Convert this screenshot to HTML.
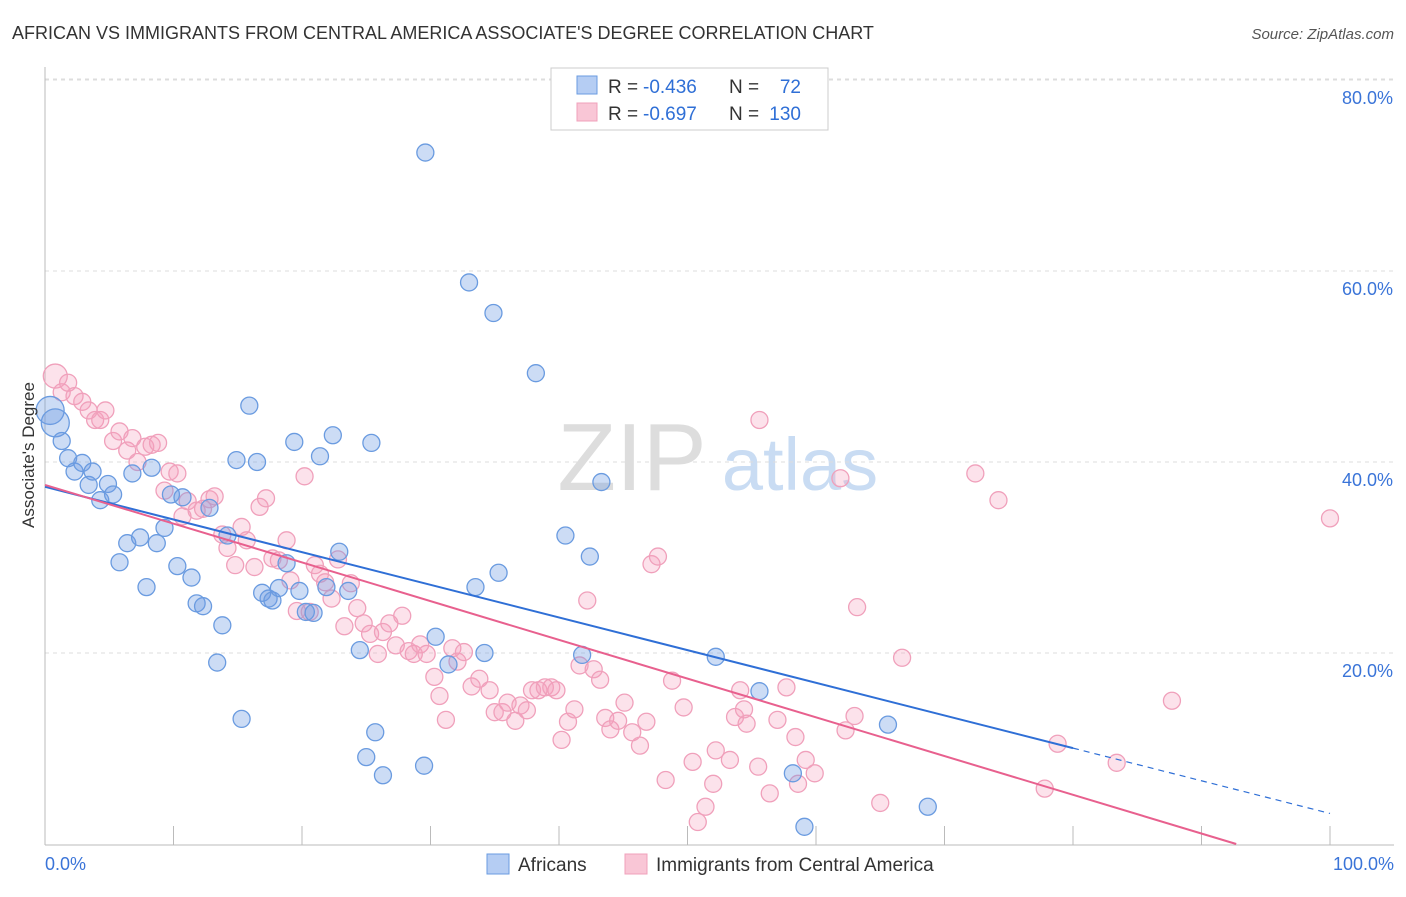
<!DOCTYPE html>
<html><head><meta charset="utf-8"><style>
body{margin:0;background:#fff;font-family:"Liberation Sans",sans-serif;}
svg text{font-family:"Liberation Sans",sans-serif;}
</style></head><body>
<svg id="chart" width="1406" height="892">
<text x="12" y="39" font-size="18" fill="#333">AFRICAN VS IMMIGRANTS FROM CENTRAL AMERICA ASSOCIATE'S DEGREE CORRELATION CHART</text>
<text x="1394" y="39" font-size="15" fill="#555" font-style="italic" text-anchor="end">Source: ZipAtlas.com</text>
<g>
<text x="632" y="490" font-size="96" fill="#ddd" font-family="Liberation Serif" text-anchor="middle">ZIP</text>
<text x="800" y="490" font-size="74" fill="#c9dcf3" text-anchor="middle">atlas</text>
</g>
<g id="grid"></g><g id="axes"></g><g id="marks"></g><g id="lines"></g>
<text transform="translate(34,455) rotate(-90)" font-size="17" fill="#333" text-anchor="middle">Associate's Degree</text>
<g>
<rect x="551" y="68" width="277" height="62" fill="#fff" stroke="#ccc"/>
<rect x="577" y="76" width="20" height="18" fill="#b5cdf3" stroke="#6a9be0"/>
<text x="608" y="93" font-size="19" fill="#333">R =</text>
<text x="643" y="93" font-size="19" fill="#2f6fd6">-0.436</text>
<text x="729" y="93" font-size="19" fill="#333">N =</text>
<text x="801" y="93" font-size="19" fill="#2f6fd6" text-anchor="end">72</text>
<rect x="577" y="103" width="20" height="18" fill="#f9c6d6" stroke="#f0a0bb"/>
<text x="608" y="120" font-size="19" fill="#333">R =</text>
<text x="643" y="120" font-size="19" fill="#2f6fd6">-0.697</text>
<text x="729" y="120" font-size="19" fill="#333">N =</text>
<text x="801" y="120" font-size="19" fill="#2f6fd6" text-anchor="end">130</text>
</g>
<g>
<rect x="487" y="854" width="22" height="20" fill="#b5cdf3" stroke="#6a9be0"/>
<text x="518" y="871" font-size="19" fill="#333">Africans</text>
<rect x="625" y="854" width="22" height="20" fill="#f9c6d6" stroke="#f0a0bb"/>
<text x="656" y="871" font-size="19" fill="#333">Immigrants from Central America</text>
</g>
</svg>
<script>
const blueX=[0.4,0.8,1.3,1.8,2.3,2.9,3.4,3.7,4.3,4.9,5.3,5.8,6.4,6.8,7.4,7.9,8.3,8.7,9.3,9.8,10.3,10.7,11.4,11.8,12.3,12.8,13.4,13.8,14.2,14.9,15.3,15.9,16.5,16.9,17.4,17.7,18.2,18.8,19.4,19.8,20.3,20.9,21.4,21.9,22.4,22.9,23.6,24.5,25.0,25.4,25.7,26.3,29.5,29.6,30.4,31.4,33.0,33.5,34.2,34.9,35.3,38.2,40.5,41.8,42.4,43.3,52.2,55.6,58.2,59.1,65.6,68.7];
const blueY=[45.4,44.1,42.2,40.4,39.0,39.9,37.6,39.0,36.0,37.7,36.6,29.5,31.5,38.8,32.1,26.9,39.4,31.5,33.1,36.6,29.1,36.3,27.9,25.2,24.9,35.2,19.0,22.9,32.3,40.2,13.1,45.9,40.0,26.3,25.7,25.5,26.8,29.4,42.1,26.5,24.3,24.2,40.6,26.9,42.8,30.6,26.5,20.3,9.1,42.0,11.7,7.2,8.2,72.4,21.7,18.8,58.8,26.9,20.0,55.6,28.4,49.3,32.3,19.8,30.1,37.9,19.6,16.0,7.4,1.8,12.5,3.9];
const pinkX=[0.8,1.3,1.8,2.3,2.9,3.4,3.9,4.3,4.7,5.3,5.8,6.4,6.8,7.2,7.8,8.3,8.8,9.3,9.7,10.3,10.7,11.1,11.8,12.3,12.8,13.2,13.8,14.2,14.8,15.3,15.7,16.3,16.7,17.2,17.7,18.2,18.8,19.1,19.6,20.2,20.6,21.0,21.4,21.8,22.3,22.8,23.3,23.8,24.3,24.8,25.3,25.9,26.3,26.8,27.3,27.8,28.3,28.7,29.2,29.7,30.3,30.7,31.2,31.7,32.1,32.6,33.2,33.8,34.6,35.0,35.6,36.0,36.6,37.0,37.5,37.9,38.4,38.9,39.4,39.8,40.2,40.7,41.2,41.6,42.2,42.7,43.2,43.6,44.0,44.6,45.1,45.7,46.3,46.8,47.2,47.7,48.3,48.8,49.7,50.4,50.8,51.4,52.0,52.2,53.3,53.7,54.1,54.4,54.6,55.5,55.6,56.4,57.0,57.7,58.4,58.6,59.2,59.9,61.9,62.3,63.0,63.2,65.0,66.7,72.4,74.2,77.8,78.8,83.4,87.7,100];
const pinkY=[49.0,47.3,48.3,46.9,46.3,45.4,44.4,44.4,45.4,42.2,43.2,41.2,42.5,40.0,41.6,41.8,42.0,37.0,39.0,38.8,34.3,35.9,34.9,35.1,36.1,36.4,32.4,31.0,29.2,33.2,31.8,29.0,35.3,36.2,29.9,29.7,31.8,27.6,24.4,38.5,24.3,29.2,28.3,27.4,25.7,29.8,22.8,27.3,24.7,23.1,22.0,19.9,22.2,23.1,20.8,23.9,20.2,19.9,20.9,19.9,17.5,15.5,13.0,20.5,19.1,20.1,16.5,17.3,16.1,13.8,13.8,14.8,12.9,14.5,14.0,16.1,16.1,16.4,16.4,16.1,10.9,12.8,14.1,18.7,25.5,18.3,17.2,13.2,12.0,12.9,14.8,11.7,10.3,12.8,29.3,30.1,6.7,17.1,14.3,8.6,2.3,3.9,6.3,9.8,8.8,13.3,16.1,14.1,12.6,8.1,44.4,5.3,13.0,16.4,11.2,6.3,8.8,7.4,38.3,11.9,13.4,24.8,4.3,19.5,38.8,36.0,5.8,10.5,8.5,15.0,34.1];
const yTicks=[20,40,60,80];
const yTickLabels=["20.0%","40.0%","60.0%","80.0%"];
const xTicks=[0,10,20,30,40,50,60,70,80,90,100];
const blueTrend=[37.4,3.2];
const pinkTrend=[37.6,-2.96];
const bigBlue=[0,1], bigPink=[0];

const NS="http://www.w3.org/2000/svg";
const X=v=>45+v*12.85, Y=v=>844-v*9.55;
function mk(parent,tag,attrs){const e=document.createElementNS(NS,tag);for(const k in attrs)e.setAttribute(k,attrs[k]);document.getElementById(parent).appendChild(e);return e;}

yTicks.forEach((t,i)=>{
  const g=mk('grid','line',{x1:45,x2:1394,y1:Y(t),y2:Y(t),stroke:'#ddd','stroke-dasharray':'4,4'});
  
  
  const l=mk('axes','text',{x:1393,y:Y(t)+24,'font-size':18,fill:'#3a74d8','text-anchor':'end'});
  l.textContent=yTickLabels[i];
  
  
});
const tg=mk('grid','line',{x1:45,x2:1394,y1:79,y2:79,stroke:'#ddd','stroke-dasharray':'4,4'});


const ya=mk('axes','line',{x1:45,x2:45,y1:67,y2:845,stroke:'#bbb'});


const xa=mk('axes','line',{x1:45,x2:1394,y1:845,y2:845,stroke:'#bbb'});


xTicks.forEach(t=>{
  const k=mk('axes','line',{x1:X(t),x2:X(t),y1:826,y2:845,stroke:'#bbb'});
  
  
});
[[0,'0.0%','start',45],[100,'100.0%','end',1394]].forEach(([v,s,a,x])=>{
  const l=mk('axes','text',{x:x,y:870,'font-size':18,fill:'#3a74d8','text-anchor':a});
  l.textContent=s;
  
  
});
pinkX.forEach((x,i)=>{
  const c=mk('marks','circle',{cx:X(x),cy:Y(pinkY[i]),r:bigPink.includes(i)?12:8.5,fill:'rgba(244,160,188,0.3)',stroke:'#f0a0bb','stroke-width':1.3});
  
  
});
blueX.forEach((x,i)=>{
  const c=mk('marks','circle',{cx:X(x),cy:Y(blueY[i]),r:bigBlue.includes(i)?14:8.5,fill:'rgba(110,155,225,0.35)',stroke:'#6a9be0','stroke-width':1.3});
  
  
});
const by=x=>blueTrend[0]+(blueTrend[1]-blueTrend[0])*x/100;
const b1=mk('lines','line',{x1:X(0),y1:Y(by(0)),x2:X(80),y2:Y(by(80)),stroke:'#2f6fd6','stroke-width':2});


const b2=mk('lines','line',{x1:X(80),y1:Y(by(80)),x2:X(100),y2:Y(by(100)),stroke:'#2f6fd6','stroke-width':1.2,'stroke-dasharray':'6,5'});


const pz=100*pinkTrend[0]/(pinkTrend[0]-pinkTrend[1]);
const p1=mk('lines','line',{x1:X(0),y1:Y(pinkTrend[0]),x2:X(pz),y2:Y(0),stroke:'#e8608e','stroke-width':2});


</script>
</body></html>
